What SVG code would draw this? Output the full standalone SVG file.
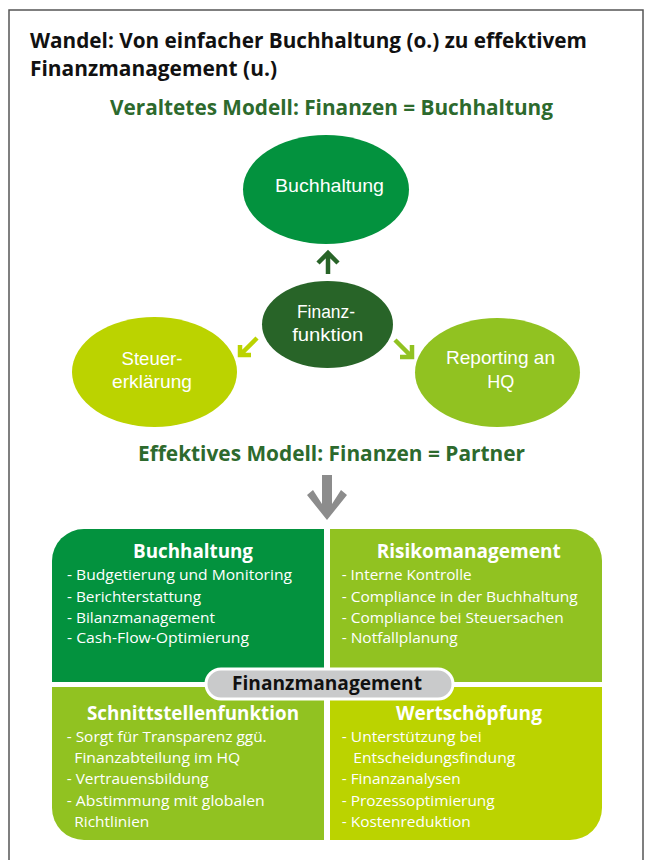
<svg xmlns="http://www.w3.org/2000/svg" width="652" height="860" viewBox="0 0 652 860">
  <style>
    text { font-family: "Open Sans", "Liberation Sans", sans-serif; }
    .title { font-size: 21px; font-weight: bold; fill: #111111; }
    .head { font-size: 21px; font-weight: bold; fill: #2d6a2d; }
    .lbl { font-family: "Liberation Sans", Arial, sans-serif; font-size: 19px; fill: #ffffff; text-anchor: middle; }
    .ptitle { font-size: 19px; font-weight: bold; fill: #ffffff; text-anchor: middle; }
    .item { font-size: 15px; fill: #ffffff; }
    .arrow { fill: none; stroke-width: 4.5; stroke-linecap: butt; stroke-linejoin: miter; }
  </style>

  <rect x="0" y="0" width="652" height="860" fill="#ffffff"/>
  <!-- outer frame -->
  <rect x="9" y="10" width="634" height="856" fill="none" stroke="#555555" stroke-width="1.5"/>

  <!-- headings -->
  <text class="title" x="30" y="48" textLength="557" lengthAdjust="spacingAndGlyphs">Wandel: Von einfacher Buchhaltung (o.) zu effektivem</text>
  <text class="title" x="30" y="76" textLength="247" lengthAdjust="spacingAndGlyphs">Finanzmanagement (u.)</text>
  <text class="head" x="110" y="115" textLength="443" lengthAdjust="spacingAndGlyphs">Veraltetes Modell: Finanzen = Buchhaltung</text>
  <text class="head" x="138" y="461" textLength="387" lengthAdjust="spacingAndGlyphs">Effektives Modell: Finanzen = Partner</text>

  <!-- old model -->
  <g id="node-buchhaltung">
    <ellipse cx="326" cy="189.5" rx="83" ry="54.5" fill="#03923e"/>
    <text class="lbl" x="329.5" y="192" textLength="109" lengthAdjust="spacingAndGlyphs">Buchhaltung</text>
  </g>
  <g id="node-finanzfunktion">
    <ellipse cx="327.5" cy="324.5" rx="65.5" ry="43.5" fill="#286428"/>
    <text class="lbl" x="326" y="318" textLength="58" lengthAdjust="spacingAndGlyphs">Finanz-</text>
    <text class="lbl" x="327.7" y="341" textLength="71" lengthAdjust="spacingAndGlyphs">funktion</text>
  </g>
  <g id="node-steuer">
    <ellipse cx="154.5" cy="372" rx="82.5" ry="55" fill="#bbd300"/>
    <text class="lbl" x="152" y="365" textLength="61" lengthAdjust="spacingAndGlyphs">Steuer-</text>
    <text class="lbl" x="152" y="388" textLength="80" lengthAdjust="spacingAndGlyphs">erklärung</text>
  </g>
  <g id="node-reporting">
    <ellipse cx="497.5" cy="372.5" rx="82.5" ry="54.5" fill="#91c221"/>
    <text class="lbl" x="500.5" y="364" textLength="109" lengthAdjust="spacingAndGlyphs">Reporting an</text>
    <text class="lbl" x="500.7" y="388" textLength="27" lengthAdjust="spacingAndGlyphs">HQ</text>
  </g>

  <g id="connectors">
    <!-- up to Buchhaltung -->
    <path class="arrow" stroke="#286428" d="M328,274 V254 M318,263 L328,253 L338,263"/>
    <!-- down-left to Steuererklärung -->
    <path class="arrow" stroke="#bbd300" d="M257,338 L240,355 M240,345 V355 H251"/>
    <!-- down-right to Reporting -->
    <path class="arrow" stroke="#91c221" d="M395,340 L412,357 M412,345 V357 H400"/>
    <!-- old model to new model -->
    <path d="M322,475 H332 V504 L341,490 L347,495 L327,520 L307,495 L313,490 L322,504 Z" fill="#8c8c8c"/>
  </g>

  <!-- new model: four quadrants -->
  <g id="node-q-buchhaltung">
    <path d="M52,682 V561 A32,32 0 0 1 84,529 H324 V682 Z" fill="#03923e"/>
    <text class="ptitle" x="193" y="557.5" textLength="120" lengthAdjust="spacingAndGlyphs">Buchhaltung</text>
    <text class="item" x="67" y="580" textLength="225" lengthAdjust="spacingAndGlyphs">- Budgetierung und Monitoring</text>
    <text class="item" x="67" y="601.5" textLength="134" lengthAdjust="spacingAndGlyphs">- Berichterstattung</text>
    <text class="item" x="67" y="622.5" textLength="148" lengthAdjust="spacingAndGlyphs">- Bilanzmanagement</text>
    <text class="item" x="67" y="643" textLength="182" lengthAdjust="spacingAndGlyphs">- Cash-Flow-Optimierung</text>
  </g>
  <g id="node-q-risiko">
    <path d="M330,529 H570 A32,32 0 0 1 602,561 V682 H330 Z" fill="#91c221"/>
    <text class="ptitle" x="468.7" y="557.5" textLength="184" lengthAdjust="spacingAndGlyphs">Risikomanagement</text>
    <text class="item" x="341.7" y="580" textLength="130" lengthAdjust="spacingAndGlyphs">- Interne Kontrolle</text>
    <text class="item" x="341.7" y="601.5" textLength="236" lengthAdjust="spacingAndGlyphs">- Compliance in der Buchhaltung</text>
    <text class="item" x="341.7" y="622.5" textLength="222" lengthAdjust="spacingAndGlyphs">- Compliance bei Steuersachen</text>
    <text class="item" x="341.7" y="643" textLength="116" lengthAdjust="spacingAndGlyphs">- Notfallplanung</text>
  </g>
  <g id="node-q-schnittstelle">
    <path d="M52,687 H324 V840 H84 A32,32 0 0 1 52,808 Z" fill="#91c221"/>
    <text class="ptitle" x="193" y="720" textLength="212" lengthAdjust="spacingAndGlyphs">Schnittstellenfunktion</text>
    <text class="item" x="66.7" y="741.7" textLength="200" lengthAdjust="spacingAndGlyphs">- Sorgt für Transparenz ggü.</text>
    <text class="item" x="74.3" y="763" textLength="166" lengthAdjust="spacingAndGlyphs">Finanzabteilung im HQ</text>
    <text class="item" x="66.7" y="784" textLength="142" lengthAdjust="spacingAndGlyphs">- Vertrauensbildung</text>
    <text class="item" x="66.7" y="805.7" textLength="198" lengthAdjust="spacingAndGlyphs">- Abstimmung mit globalen</text>
    <text class="item" x="74.3" y="826.7" textLength="75" lengthAdjust="spacingAndGlyphs">Richtlinien</text>
  </g>
  <g id="node-q-wertschoepfung">
    <path d="M330,687 H602 V808 A32,32 0 0 1 570,840 H330 Z" fill="#bbd300"/>
    <text class="ptitle" x="469" y="720" textLength="146" lengthAdjust="spacingAndGlyphs">Wertschöpfung</text>
    <text class="item" x="341.7" y="741.7" textLength="140" lengthAdjust="spacingAndGlyphs">- Unterstützung bei</text>
    <text class="item" x="353.3" y="763" textLength="162" lengthAdjust="spacingAndGlyphs">Entscheidungsfindung</text>
    <text class="item" x="341.7" y="784" textLength="119" lengthAdjust="spacingAndGlyphs">- Finanzanalysen</text>
    <text class="item" x="341.7" y="805.7" textLength="153" lengthAdjust="spacingAndGlyphs">- Prozessoptimierung</text>
    <text class="item" x="341.7" y="826.7" textLength="129" lengthAdjust="spacingAndGlyphs">- Kostenreduktion</text>
  </g>

  <g id="node-finanzmanagement">
    <rect x="206" y="669" width="247" height="30" rx="15" fill="#c9cacb" stroke="#ffffff" stroke-width="3"/>
    <text x="327" y="690" font-size="19" font-weight="bold" fill="#111111" text-anchor="middle" textLength="190" lengthAdjust="spacingAndGlyphs">Finanzmanagement</text>
  </g>
</svg>
